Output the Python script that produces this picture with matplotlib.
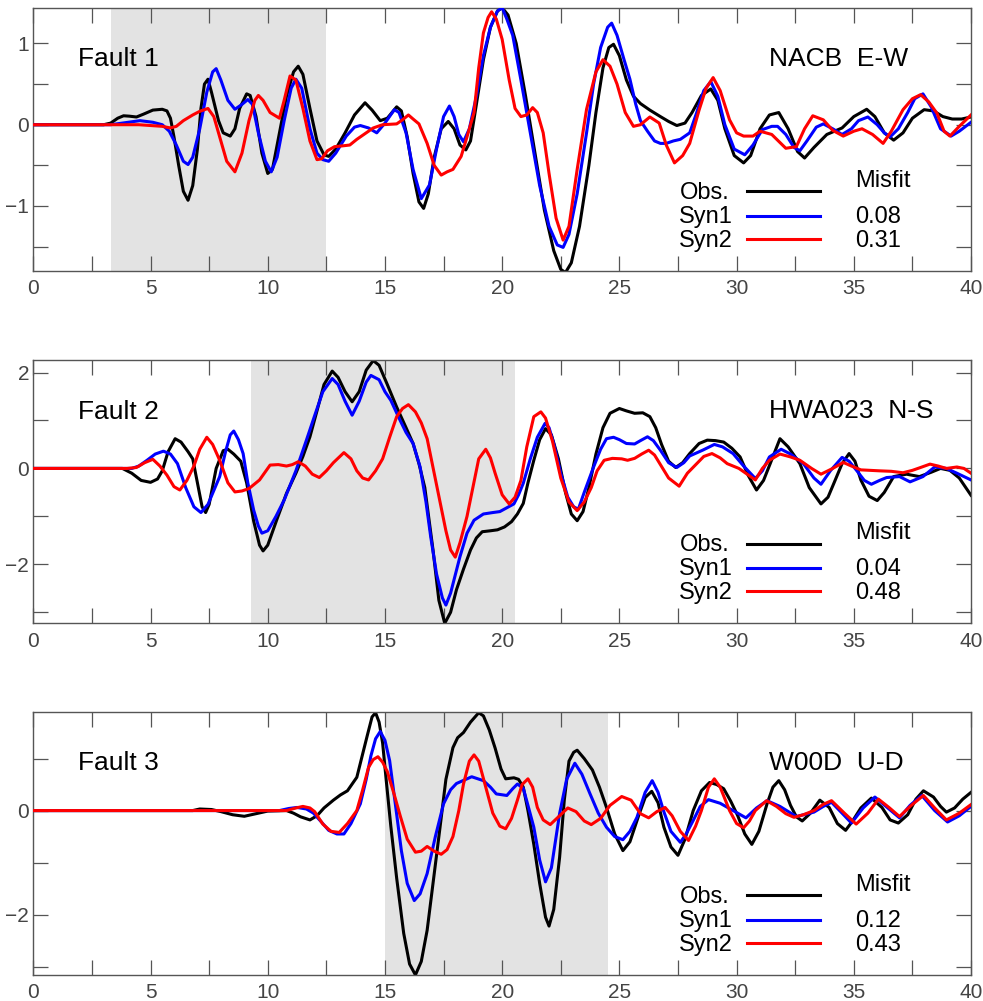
import matplotlib.pyplot as plt
from matplotlib.ticker import FixedLocator, NullFormatter

# ---------------- Fault 1 : NACB E-W ----------------
f1_obs_t = [0, 3.0, 3.3, 3.6, 3.85, 4.1, 4.4, 4.7, 5.1, 5.5, 5.7, 5.85, 6.0, 6.2, 6.4, 6.6, 6.8, 7.0, 7.15,
            7.3, 7.45, 7.6, 7.9, 8.1, 8.4, 8.6, 8.8, 9.1, 9.25, 9.5, 9.75, 10.0, 10.2, 10.5, 10.8, 11.1,
            11.3, 11.5, 11.8, 12.1, 12.4, 12.6, 12.9, 13.3, 13.7, 14.15, 14.45, 14.8, 15.1, 15.5, 15.7,
            15.95, 16.2, 16.45, 16.65, 16.85, 17.1, 17.4, 17.7, 17.95, 18.2, 18.45, 18.65, 18.9, 19.2,
            19.5, 19.8, 20.0, 20.25, 20.6, 21.0, 21.4, 21.8, 22.2, 22.5, 22.7, 22.95, 23.3, 23.7, 24.0,
            24.3, 24.55, 24.75, 25.0, 25.3, 25.6, 25.9, 26.3, 26.75, 27.1, 27.45, 27.8, 28.1, 28.5, 28.9,
            29.2, 29.5, 29.9, 30.3, 30.6, 31.0, 31.4, 31.8, 32.2, 32.6, 32.9, 33.3, 33.85, 34.5, 35.0,
            35.55, 35.9, 36.3, 36.7, 37.1, 37.5, 38.0, 38.4, 38.8, 39.2, 39.6, 40]
f1_obs_v = [0, 0, 0.02, 0.08, 0.11, 0.105, 0.095, 0.13, 0.18, 0.19, 0.17, 0.08, -0.15, -0.5, -0.82, -0.93,
            -0.75, -0.3, 0.2, 0.5, 0.56, 0.4, 0.05, -0.1, -0.14, -0.05, 0.2, 0.38, 0.36, 0.1, -0.35, -0.6,
            -0.55, -0.1, 0.35, 0.65, 0.72, 0.62, 0.2, -0.2, -0.37, -0.39, -0.3, -0.1, 0.12, 0.27, 0.18,
            0.05, 0.08, 0.22, 0.17, -0.15, -0.6, -0.95, -1.03, -0.85, -0.4, -0.05, 0.04, -0.05, -0.25,
            -0.31, -0.2, 0.25, 0.8, 1.2, 1.4, 1.44, 1.35, 1.0, 0.35, -0.35, -1.05, -1.55, -1.78, -1.82,
            -1.7, -1.25, -0.5, 0.15, 0.7, 0.95, 0.99, 0.85, 0.55, 0.35, 0.26, 0.18, 0.1, 0.04, -0.01, 0.02,
            0.15, 0.36, 0.44, 0.3, -0.05, -0.38, -0.47, -0.38, -0.05, 0.12, 0.15, -0.05, -0.33, -0.41,
            -0.28, -0.12, -0.04, 0.1, 0.19, 0.1, -0.1, -0.19, -0.1, 0.08, 0.185, 0.17, 0.1, 0.07, 0.07, 0.095]

f1_syn1_t = [0, 3.3, 3.8, 4.55, 5.1, 5.5, 5.8, 6.1, 6.4, 6.6, 6.8, 7.1, 7.4, 7.65, 7.8, 8.0, 8.3, 8.6, 8.9,
             9.15, 9.35, 9.6, 9.9, 10.15, 10.4, 10.7, 11.0, 11.2, 11.45, 11.8, 12.1, 12.35, 12.6, 12.9,
             13.35, 13.7, 13.95, 14.3, 14.65, 15.0, 15.4, 15.6, 15.9, 16.2, 16.55, 16.9, 17.2, 17.5, 17.75,
             17.95, 18.15, 18.35, 18.6, 18.9, 19.2, 19.5, 19.8, 20.0, 20.2, 20.45, 20.8, 21.2, 21.6, 22.0,
             22.35, 22.6, 22.85, 23.2, 23.6, 23.9, 24.2, 24.5, 24.67, 24.9, 25.2, 25.45, 25.7, 25.9, 26.2,
             26.5, 26.75, 27.0, 27.3, 27.6, 28.0, 28.3, 28.6, 28.9, 29.2, 29.5, 29.9, 30.35, 30.7, 31.1,
             31.5, 31.75, 32.1, 32.45, 32.7, 33.0, 33.4, 33.7, 34.1, 34.5, 34.9, 35.2, 35.6, 36.0, 36.3,
             36.55, 36.9, 37.3, 37.6, 37.95, 38.3, 38.7, 39.15, 39.5, 40]
f1_syn1_v = [0, 0, 0.02, 0.05, 0.03, 0.0, -0.08, -0.25, -0.45, -0.49, -0.4, -0.05, 0.4, 0.65, 0.69, 0.55,
             0.3, 0.19, 0.25, 0.31, 0.25, -0.1, -0.45, -0.58, -0.4, 0.05, 0.45, 0.56, 0.45, -0.05, -0.35,
             -0.43, -0.45, -0.35, -0.14, -0.03, -0.01, -0.04, -0.1, 0.02, 0.185, 0.15, -0.1, -0.55, -0.91,
             -0.74, -0.3, 0.1, 0.23, 0.1, -0.12, -0.21, -0.05, 0.35, 0.85, 1.2, 1.4, 1.44, 1.3, 1.1, 0.55,
             -0.1, -0.75, -1.25, -1.48, -1.51, -1.35, -0.85, -0.1, 0.5, 0.95, 1.2, 1.25, 1.1, 0.8, 0.56,
             0.25, 0.05, -0.08, -0.2, -0.23, -0.23, -0.2, -0.18, -0.1, 0.15, 0.42, 0.53, 0.35, 0.0, -0.3,
             -0.37, -0.25, -0.06, -0.02, -0.02, -0.12, -0.28, -0.32, -0.2, -0.03, 0.01, -0.05, -0.12,
             -0.05, 0.05, 0.095, 0.0, -0.1, -0.15, -0.05, 0.15, 0.32, 0.38, 0.22, -0.05, -0.14, -0.08, 0.03]

f1_syn2_t = [0, 4.5, 5.5, 5.85, 6.1, 6.4, 6.8, 7.1, 7.45, 7.7, 7.95, 8.25, 8.6, 8.9, 9.2, 9.45, 9.6, 9.8,
             10.1, 10.5, 10.7, 10.95, 11.2, 11.5, 11.8, 12.1, 12.3, 12.55, 12.85, 13.2, 13.5, 13.8, 14.2,
             14.5, 14.9, 15.5, 15.75, 16.0, 16.2, 16.45, 16.8, 17.1, 17.4, 17.65, 17.9, 18.25, 18.5, 18.8,
             19.0, 19.2, 19.4, 19.55, 19.75, 20.0, 20.3, 20.55, 20.8, 21.05, 21.3, 21.5, 21.75, 22.0, 22.3,
             22.6, 22.85, 23.2, 23.6, 24.0, 24.3, 24.6, 24.9, 25.25, 25.6, 25.9, 26.3, 26.7, 27.0, 27.35,
             27.7, 28.0, 28.4, 28.7, 29.0, 29.3, 29.7, 30.0, 30.3, 30.7, 31.0, 31.5, 32.1, 32.55, 32.9,
             33.25, 33.7, 34.1, 34.55, 35.0, 35.35, 35.8, 36.25, 36.6, 37.1, 37.5, 37.85, 38.2, 38.55,
             38.85, 39.1, 39.5, 40]
f1_syn2_v = [0, 0, -0.02, -0.04, -0.02, 0.05, 0.12, 0.165, 0.2, 0.1, -0.15, -0.45, -0.58, -0.35, 0.05,
             0.3, 0.36, 0.3, 0.15, 0.08, 0.3, 0.6, 0.55, 0.2, -0.2, -0.43, -0.42, -0.32, -0.27, -0.26,
             -0.25, -0.18, -0.1, -0.04, 0.0, 0.01, 0.06, 0.12, 0.07, 0.01, -0.23, -0.5, -0.62, -0.58,
             -0.55, -0.39, -0.15, 0.15, 0.7, 1.13, 1.32, 1.39, 1.3, 1.05, 0.55, 0.2, 0.1, 0.12, 0.21, 0.15,
             -0.1, -0.6, -1.15, -1.42, -1.25, -0.55, 0.19, 0.65, 0.8, 0.72, 0.5, 0.15, -0.02, 0.0, 0.095,
             0.02, -0.25, -0.47, -0.38, -0.23, 0.18, 0.45, 0.58, 0.42, 0.06, -0.1, -0.14, -0.14, -0.08,
             -0.12, -0.29, -0.27, -0.05, 0.11, 0.06, -0.07, -0.14, -0.08, -0.05, -0.12, -0.23, -0.08,
             0.185, 0.32, 0.37, 0.28, 0.14, -0.08, -0.14, -0.02, 0.12]

# ---------------- Fault 2 : HWA023 N-S ----------------
f2_obs_t = [0, 3.8, 4.2, 4.6, 5.0, 5.3, 5.5, 5.75, 6.05, 6.3, 6.6, 6.8, 7.0, 7.2, 7.35, 7.5, 7.8, 8.1, 8.3,
            8.55, 8.85, 9.1, 9.4, 9.65, 9.8, 10.0, 10.4, 10.8, 11.2, 11.5, 11.8, 12.1, 12.4, 12.75, 13.0,
            13.3, 13.6, 13.9, 14.2, 14.5, 14.75, 15.1, 15.5, 15.9, 16.2, 16.45, 16.7, 17.05, 17.3, 17.55,
            17.8, 18.05, 18.35, 18.65, 18.9, 19.15, 19.5, 19.8, 20.1, 20.4, 20.65, 20.9, 21.1, 21.35, 21.6,
            21.85, 22.1, 22.4, 22.7, 22.95, 23.2, 23.45, 23.7, 24.0, 24.3, 24.6, 25.0, 25.3, 25.65, 26.0,
            26.3, 26.55, 26.8, 27.1, 27.4, 27.7, 28.0, 28.4, 28.75, 29.1, 29.45, 29.8, 30.15, 30.5, 30.85,
            31.15, 31.45, 31.85, 32.2, 32.7, 33.1, 33.6, 33.9, 34.15, 34.5, 34.8, 35.05, 35.3, 35.65, 36.0,
            36.3, 36.7, 37.25, 37.8, 38.3, 38.7, 39.1, 39.5, 40]
f2_obs_v = [0, 0, -0.1, -0.25, -0.29, -0.22, -0.05, 0.35, 0.62, 0.55, 0.35, 0.2, -0.3, -0.8, -0.92, -0.75,
            0.0, 0.37, 0.4, 0.3, 0.15, -0.3, -1.1, -1.6, -1.72, -1.6, -1.05, -0.52, -0.1, 0.25, 0.66, 1.2,
            1.75, 2.03, 1.9, 1.6, 1.39, 1.6, 2.05, 2.25, 2.15, 1.75, 1.28, 0.85, 0.52, 0.1, -0.4, -1.7,
            -2.75, -3.23, -3.0, -2.53, -2.1, -1.7, -1.45, -1.32, -1.3, -1.28, -1.22, -1.11, -0.95, -0.73,
            -0.3, 0.17, 0.6, 0.83, 0.7, 0.2, -0.5, -0.95, -1.09, -0.9, -0.4, 0.3, 0.85, 1.15, 1.25, 1.2,
            1.15, 1.16, 1.08, 0.85, 0.5, 0.15, 0.02, 0.12, 0.31, 0.52, 0.59, 0.58, 0.55, 0.42, 0.24, -0.15,
            -0.45, -0.25, 0.12, 0.62, 0.45, 0.1, -0.4, -0.74, -0.6, -0.31, 0.1, 0.31, 0.15, -0.24, -0.58,
            -0.67, -0.5, -0.17, -0.12, -0.17, -0.08, 0.0, -0.04, -0.2, -0.56]

f2_syn1_t = [0, 4.2, 4.5, 4.85, 5.2, 5.55, 5.85, 6.15, 6.5, 6.85, 7.15, 7.45, 7.95, 8.2, 8.4, 8.55, 8.75,
             8.95, 9.15, 9.4, 9.6, 9.75, 10.0, 10.35, 10.7, 11.2, 11.65, 12.0, 12.35, 12.75, 13.0, 13.3,
             13.6, 13.9, 14.2, 14.4, 14.75, 15.0, 15.25, 15.6, 15.9, 16.2, 16.5, 16.75, 16.95, 17.2, 17.45,
             17.6, 17.8, 18.2, 18.5, 18.8, 19.2, 19.6, 19.9, 20.2, 20.5, 20.7, 20.9, 21.2, 21.5, 21.83, 22.0,
             22.2, 22.5, 22.8, 23.05, 23.25, 23.5, 23.9, 24.2, 24.45, 24.75, 25.0, 25.3, 25.65, 25.9, 26.2,
             26.45, 26.75, 27.1, 27.45, 27.75, 28.0, 28.55, 29.05, 29.4, 29.85, 30.3, 30.8, 31.1, 31.4,
             31.9, 32.3, 32.85, 33.3, 33.6, 34.0, 34.5, 34.8, 35.1, 35.45, 35.75, 36.1, 36.4, 36.95, 37.4,
             37.95, 38.45, 38.95, 39.4, 40]
f2_syn1_v = [0, 0, 0.05, 0.17, 0.3, 0.36, 0.3, 0.1, -0.4, -0.8, -0.92, -0.75, -0.17, 0.35, 0.7, 0.78, 0.6,
             0.31, -0.3, -0.87, -1.2, -1.35, -1.3, -1.0, -0.66, -0.05, 0.59, 1.1, 1.6, 1.875, 1.75, 1.4,
             1.11, 1.4, 1.8, 1.94, 1.85, 1.6, 1.42, 1.05, 0.75, 0.52, 0.03, -0.7, -1.42, -2.2, -2.7, -2.85,
             -2.6, -1.84, -1.35, -1.08, -0.95, -0.92, -0.9, -0.82, -0.74, -0.55, -0.31, 0.2, 0.65, 0.94,
             0.85, 0.52, -0.1, -0.6, -0.8, -0.85, -0.5, 0.03, 0.4, 0.62, 0.65, 0.6, 0.52, 0.51, 0.58, 0.66,
             0.58, 0.38, 0.12, 0.02, 0.12, 0.26, 0.38, 0.5, 0.45, 0.31, 0.05, -0.21, -0.05, 0.24, 0.4, 0.3,
             0.1, -0.2, -0.33, -0.05, 0.23, 0.15, -0.03, -0.25, -0.33, -0.25, -0.19, -0.17, -0.28, -0.17,
             0.03, 0.0, -0.1, -0.24]

f2_syn2_t = [0, 4.0, 4.4, 4.75, 5.1, 5.4, 5.7, 6.0, 6.25, 6.55, 6.85, 7.1, 7.4, 7.65, 7.95, 8.3, 8.6, 8.9,
             9.2, 9.65, 10.1, 10.45, 10.8, 11.05, 11.3, 11.6, 11.9, 12.2, 12.5, 12.8, 13.25, 13.55, 13.8,
             14.05, 14.3, 14.6, 14.9, 15.2, 15.5, 15.75, 16.0, 16.3, 16.55, 16.8, 17.1, 17.35, 17.6, 17.8,
             18.0, 18.2, 18.5, 18.75, 19.0, 19.3, 19.5, 19.7, 20.0, 20.3, 20.55, 20.8, 21.05, 21.35, 21.65,
             21.85, 22.15, 22.5, 22.85, 23.2, 23.5, 23.8, 24.05, 24.35, 24.7, 25.1, 25.35, 25.65, 25.95,
             26.25, 26.5, 26.75, 27.1, 27.55, 27.9, 28.3, 28.6, 28.95, 29.3, 29.6, 30.1, 30.45, 30.8, 31.1,
             31.4, 31.85, 32.3, 32.7, 33.2, 33.6, 34.1, 34.55, 34.9, 35.3, 35.7, 36.1, 36.6, 37.1, 37.5,
             37.85, 38.25, 38.6, 38.95, 39.4, 39.7, 40]
f2_syn2_v = [0, 0, 0.02, 0.12, 0.19, 0.05, -0.14, -0.38, -0.45, -0.25, 0.05, 0.4, 0.65, 0.5, 0.17, -0.3,
             -0.49, -0.47, -0.42, -0.24, 0.07, 0.08, 0.05, 0.08, 0.14, 0.05, -0.12, -0.19, -0.05, 0.12,
             0.33, 0.2, -0.05, -0.2, -0.24, -0.05, 0.2, 0.65, 1.08, 1.25, 1.33, 1.18, 0.95, 0.62, -0.1,
             -0.7, -1.3, -1.7, -1.85, -1.55, -1.0, -0.4, 0.2, 0.4, 0.22, -0.1, -0.55, -0.74, -0.6, -0.25,
             0.45, 1.08, 1.18, 1.05, 0.56, -0.2, -0.7, -0.88, -0.7, -0.4, -0.05, 0.17, 0.21, 0.2, 0.17,
             0.21, 0.3, 0.38, 0.28, 0.08, -0.2, -0.37, -0.1, 0.1, 0.25, 0.31, 0.22, 0.1, 0.0, -0.12, -0.24,
             0.0, 0.17, 0.3, 0.24, 0.17, 0.0, -0.12, 0.0, 0.125, 0.05, -0.03, -0.04, -0.05, -0.06, -0.09,
             -0.04, 0.02, 0.09, 0.05, 0.0, 0.03, 0.0, -0.1]

# ---------------- Fault 3 : W00D U-D ----------------
f3_obs_t = [0, 6.8, 7.1, 7.6, 8.0, 8.5, 9.0, 9.5, 10.0, 10.8, 11.1, 11.4, 11.8, 12.1, 12.4, 12.8, 13.1,
            13.4, 13.8, 14.0, 14.25, 14.45, 14.6, 14.75, 14.9, 15.05, 15.25, 15.5, 15.8, 16.05, 16.3,
            16.55, 16.8, 17.05, 17.35, 17.6, 17.9, 18.1, 18.35, 18.65, 19.0, 19.2, 19.45, 19.7, 19.95,
            20.15, 20.5, 20.7, 20.9, 21.1, 21.35, 21.6, 21.85, 22.0, 22.2, 22.45, 22.65, 22.85, 23.05,
            23.2, 23.5, 23.85, 24.15, 24.45, 24.8, 25.15, 25.45, 25.85, 26.1, 26.38, 26.65, 26.9, 27.2,
            27.5, 27.8, 28.15, 28.5, 28.85, 29.15, 29.45, 29.75, 30.05, 30.35, 30.65, 30.95, 31.3, 31.55,
            31.8, 32.05, 32.3, 32.55, 32.8, 33.15, 33.55, 33.95, 34.3, 34.65, 34.95, 35.3, 35.75, 36.2,
            36.55, 36.9, 37.3, 37.65, 37.97, 38.4, 38.7, 38.95, 39.3, 39.65, 40]
f3_obs_v = [0, 0.0, 0.03, 0.02, -0.02, -0.08, -0.11, -0.06, -0.01, 0.0, -0.05, -0.12, -0.18, -0.1, 0.05,
            0.2, 0.3, 0.38, 0.64, 1.0, 1.45, 1.8, 1.88, 1.7, 1.3, 0.6, -0.3, -1.3, -2.36, -2.95, -3.16,
            -2.9, -2.3, -1.4, -0.32, 0.6, 1.21, 1.4, 1.5, 1.7, 1.88, 1.82, 1.55, 1.2, 0.8, 0.61, 0.63, 0.6,
            0.45, 0.0, -0.65, -1.4, -2.05, -2.22, -1.9, -0.9, 0.2, 0.95, 1.12, 1.16, 1.0, 0.78, 0.45, 0.06,
            -0.45, -0.77, -0.6, -0.06, 0.25, 0.37, 0.15, -0.32, -0.7, -0.86, -0.55, 0.0, 0.38, 0.54, 0.5,
            0.42, 0.18, -0.1, -0.45, -0.65, -0.4, 0.13, 0.45, 0.575, 0.4, 0.1, -0.12, -0.2, -0.05, 0.2,
            0.06, -0.25, -0.38, -0.2, 0.05, 0.24, 0.06, -0.18, -0.24, -0.08, 0.22, 0.38, 0.26, 0.08, -0.03,
            0.05, 0.22, 0.35]

f3_syn1_t = [0, 10.5, 10.9, 11.25, 11.65, 11.95, 12.25, 12.6, 12.95, 13.25, 13.55, 13.95, 14.2, 14.4,
             14.6, 14.8, 15.0, 15.2, 15.45, 15.7, 15.95, 16.25, 16.5, 16.8, 17.15, 17.5, 17.8, 18.05, 18.35,
             18.7, 19.2, 19.5, 19.75, 20.2, 20.45, 20.65, 20.9, 21.1, 21.35, 21.6, 21.85, 22.1, 22.45,
             22.75, 23.1, 23.4, 23.75, 24.1, 24.45, 24.8, 25.15, 25.45, 25.75, 26.1, 26.4, 26.65, 26.88,
             27.2, 27.6, 27.85, 28.15, 28.45, 28.8, 29.3, 29.85, 30.4, 30.85, 31.3, 31.85, 32.55, 33.3,
             33.7, 34.05, 34.5, 34.9, 35.4, 35.9, 36.45, 36.95, 37.4, 37.9, 38.45, 39.0, 39.5, 40]
f3_syn1_v = [0, 0.0, 0.04, 0.06, 0.03, -0.05, -0.2, -0.38, -0.45, -0.45, -0.25, 0.13, 0.6, 1.05, 1.38,
             1.52, 1.35, 0.96, 0.1, -0.77, -1.4, -1.73, -1.6, -1.21, -0.5, 0.13, 0.4, 0.52, 0.58, 0.65,
             0.575, 0.45, 0.32, 0.29, 0.42, 0.51, 0.43, 0.1, -0.32, -0.95, -1.37, -1.1, -0.06, 0.6, 0.91,
             0.7, 0.32, -0.05, -0.32, -0.5, -0.56, -0.4, -0.13, 0.35, 0.575, 0.35, 0.0, -0.4, -0.61, -0.45,
             -0.19, 0.08, 0.21, 0.14, 0.0, -0.14, 0.05, 0.19, 0.08, -0.115, -0.03, 0.08, 0.16, -0.05,
             -0.24, 0.05, 0.26, 0.05, -0.14, 0.1, 0.29, 0.0, -0.22, -0.1, 0.08]

f3_syn2_t = [0, 10.8, 11.2, 11.5, 11.8, 12.0, 12.35, 12.7, 13.05, 13.4, 13.8, 14.05, 14.3, 14.5, 14.7,
             14.9, 15.1, 15.4, 15.65, 15.95, 16.3, 16.55, 16.8, 17.1, 17.4, 17.65, 17.9, 18.15, 18.35, 18.6,
             18.8, 19.0, 19.3, 19.6, 19.9, 20.15, 20.4, 20.65, 20.85, 21.1, 21.3, 21.5, 21.75, 22.05, 22.45,
             22.8, 23.15, 23.5, 23.8, 24.2, 24.6, 25.1, 25.5, 25.9, 26.25, 26.6, 26.95, 27.25, 27.6, 27.95,
             28.25, 28.5, 28.8, 29.05, 29.3, 29.7, 30.0, 30.3, 30.55, 30.8, 31.28, 31.7, 32.1, 32.45, 32.85,
             33.3, 33.7, 34.05, 34.6, 35.1, 35.6, 36.05, 36.5, 36.95, 37.45, 37.97, 38.45, 38.95, 39.5, 40]
f3_syn2_v = [0, 0.0, 0.05, 0.08, 0.05, -0.02, -0.26, -0.4, -0.42, -0.25, 0.0, 0.4, 0.83, 0.98, 1.035,
             0.93, 0.75, 0.3, -0.1, -0.55, -0.8, -0.78, -0.69, -0.78, -0.84, -0.75, -0.5, 0.0, 0.51, 0.95,
             1.07, 0.95, 0.45, -0.05, -0.3, -0.35, -0.15, 0.2, 0.5, 0.61, 0.45, 0.06, -0.18, -0.27, -0.1,
             0.05, -0.02, -0.2, -0.27, -0.15, 0.1, 0.27, 0.2, -0.06, -0.14, -0.02, 0.06, -0.1, -0.4, -0.575,
             -0.3, 0.0, 0.45, 0.61, 0.45, 0.0, -0.25, -0.33, -0.2, 0.0, 0.19, 0.08, -0.06, -0.13, -0.08,
             0.0, 0.12, 0.19, -0.05, -0.26, -0.05, 0.22, 0.06, -0.115, 0.1, 0.29, 0.05, -0.18, -0.05, 0.115]

titles = ['Fault 1', 'Fault 2', 'Fault 3']
stations = ['NACB  E-W', 'HWA023  N-S', 'W00D  U-D']
misfits = [('0.08', '0.31'), ('0.04', '0.48'), ('0.12', '0.43')]
shades = [(3.3, 12.5), (9.3, 20.55), (15.0, 24.5)]
ylims = [(-1.80, 1.44), (-3.23, 2.26), (-3.16, 1.90)]
ymajor = [[-1, 0, 1], [-2, 0, 2], [-2, 0]]
yminor = [[-1.5, -0.5, 0.5], [-3, -1, 1], [-3, -1, 1]]

traces = [
    [(f1_obs_t, f1_obs_v), (f1_syn1_t, f1_syn1_v), (f1_syn2_t, f1_syn2_v)],
    [(f2_obs_t, f2_obs_v), (f2_syn1_t, f2_syn1_v), (f2_syn2_t, f2_syn2_v)],
    [(f3_obs_t, f3_obs_v), (f3_syn1_t, f3_syn1_v), (f3_syn2_t, f3_syn2_v)],
]
names = ['Obs.', 'Syn1', 'Syn2']
colors = ['black', '#0000ff', '#ff0000']

label_font = 'Liberation Sans'
tick_font = ['Liberation Sans Narrow', 'Liberation Sans']

fig = plt.figure(figsize=(9.83, 10.01), dpi=100)
bottoms = [0.7293, 0.3773, 0.0260]

for i in range(3):
    ax = fig.add_axes([0.0339, bottoms[i], 0.9539, 0.2630])

    ax.axvspan(*shades[i], color='#e3e3e3', lw=0, zorder=0)

    # draw synthetic first, obs on top? reference: obs under colours mostly
    for k in [0, 1, 2]:
        t, v = traces[i][k]
        ax.plot(t, v, color=colors[k], lw=2.2, zorder=2 + k, solid_joinstyle='round')

    ax.set_xlim(0, 40)
    ax.set_ylim(*ylims[i])
    ax.set_xticks(range(0, 41, 5))
    ax.xaxis.set_minor_locator(FixedLocator([x + 2.5 for x in range(0, 40, 5)]))
    ax.yaxis.set_major_locator(FixedLocator(ymajor[i]))
    ax.yaxis.set_minor_locator(FixedLocator(yminor[i]))
    ax.yaxis.set_minor_formatter(NullFormatter())
    ax.set_yticklabels([str(y).replace('-', '\u2212') for y in ymajor[i]])

    ax.tick_params(which='both', direction='in', length=11, width=0.9, color='#555555',
                   top=True, right=True, labelsize=15, labelcolor='#444444')
    ax.tick_params(axis='x', pad=6)
    ax.tick_params(axis='y', pad=3)
    for lab in ax.get_xticklabels() + ax.get_yticklabels():
        lab.set_family(tick_font)
    for s in ax.spines.values():
        s.set_color('#555555')
        s.set_linewidth(1.0)

    ax.text(0.0477, 0.778, titles[i], transform=ax.transAxes, fontsize=19,
            family=label_font, ha='left', va='baseline')
    ax.text(0.785, 0.78, stations[i], transform=ax.transAxes, fontsize=19,
            family=label_font, ha='left', va='baseline')

    # legend block
    ax.text(0.876, 0.319, 'Misfit', transform=ax.transAxes, fontsize=17,
            family=label_font, ha='left', va='baseline')
    rows_text = [0.274, 0.184, 0.0925]
    rows_line = [0.302, 0.209, 0.122]
    for k in range(3):
        ax.text(0.689, rows_text[k], names[k], transform=ax.transAxes, fontsize=17,
                family=label_font, ha='left', va='baseline')
        ax.plot([0.761, 0.839], [rows_line[k]] * 2, color=colors[k], lw=2.2,
                transform=ax.transAxes, zorder=6)
        if k > 0:
            ax.text(0.876, rows_text[k], misfits[i][k - 1], transform=ax.transAxes,
                    fontsize=17, family=label_font, ha='left', va='baseline')

fig.savefig('out.png', dpi=100)
